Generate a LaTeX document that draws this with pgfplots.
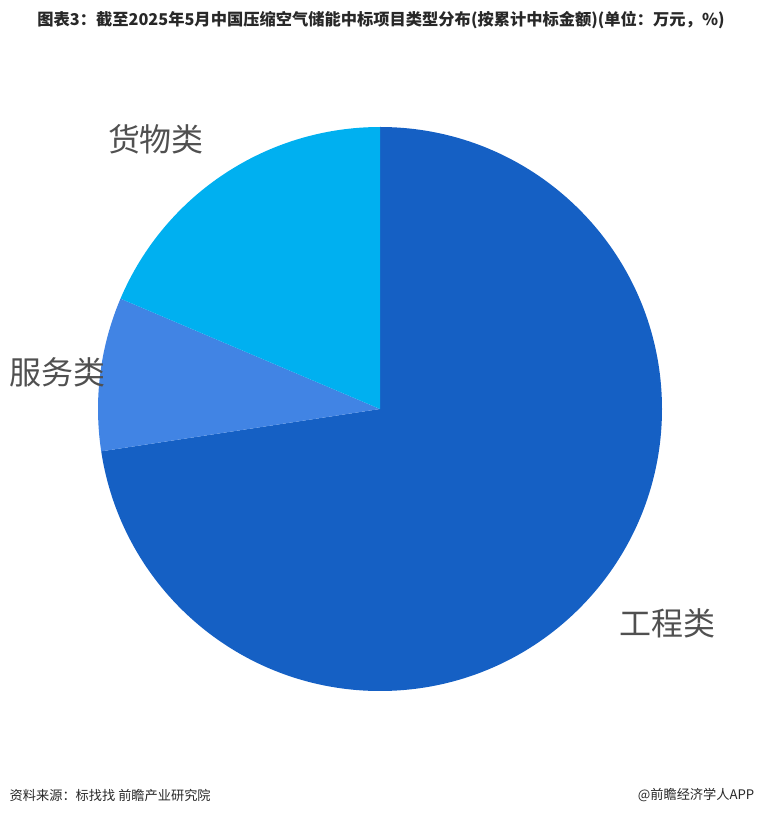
\documentclass[border=0pt]{standalone}
\usepackage{fontspec}
\setmainfont{Noto Sans CJK SC}
\usepackage{pgfplots}
\usepackage{pgfplotstable}
\pgfplotsset{compat=1.18}
\definecolor{cA}{RGB}{21,96,196}
\definecolor{cB}{RGB}{65,132,228}
\definecolor{cC}{RGB}{0,176,240}
\definecolor{lab}{RGB}{80,80,80}
\definecolor{ttl}{RGB}{40,40,40}
\pgfplotstableread{
label value
工程类 72.6
服务类 8.8
货物类 18.6
}\piedata
\begin{document}
\begin{tikzpicture}
\pgfplotstablegetelem{0}{value}\of\piedata \let\vA\pgfplotsretval
\pgfplotstablegetelem{1}{value}\of\piedata \let\vB\pgfplotsretval
\pgfplotstablegetelem{2}{value}\of\piedata \let\vC\pgfplotsretval
\pgfmathsetmacro\angA{90}
\pgfmathsetmacro\angB{\angA-3.6*\vA}
\pgfmathsetmacro\angC{\angB-3.6*\vB}
\pgfmathsetmacro\angD{\angC-3.6*\vC}
\def\R{211.5pt}
\begin{axis}[
  scale only axis, width=570pt, height=611.25pt,
  xmin=0, xmax=760, ymin=-815, ymax=0,
  hide axis, clip=false]
\path (axis cs:0,0) rectangle (axis cs:760,-815);
\fill[cA] (axis cs:380,-409) -- ++(\angA:\R) arc[start angle=\angA, end angle=\angB, radius=\R] -- cycle;
\fill[cB] (axis cs:380,-409) -- ++(\angB:\R) arc[start angle=\angB, end angle=\angC, radius=\R] -- cycle;
\fill[cC] (axis cs:380,-409) -- ++(\angC:\R) arc[start angle=\angC, end angle=\angD, radius=\R] -- cycle;
\node[text=lab, font=\fontsize{24}{24}\selectfont] at (axis cs:156,-139) {货物类};
\node[text=lab, font=\fontsize{24}{24}\selectfont] at (axis cs:58,-372) {服务类};
\node[text=lab, font=\fontsize{24}{24}\selectfont] at (axis cs:667,-623) {工程类};
\node[text=ttl, font=\fontsize{12.2}{13}\selectfont\bfseries] at (axis cs:381,-20) {图表3：截至2025年5月中国压缩空气储能中标项目类型分布(按累计中标金额)(单位：万元，\%)};
\node[text=ttl, anchor=west, font=\fontsize{9.9}{10}\selectfont] at (axis cs:5,-795) {资料来源：标找找 前瞻产业研究院};
\node[text=ttl, anchor=east, font=\fontsize{9.9}{10}\selectfont] at (axis cs:759,-795) {@前瞻经济学人APP};
\end{axis}
\end{tikzpicture}
\end{document}
